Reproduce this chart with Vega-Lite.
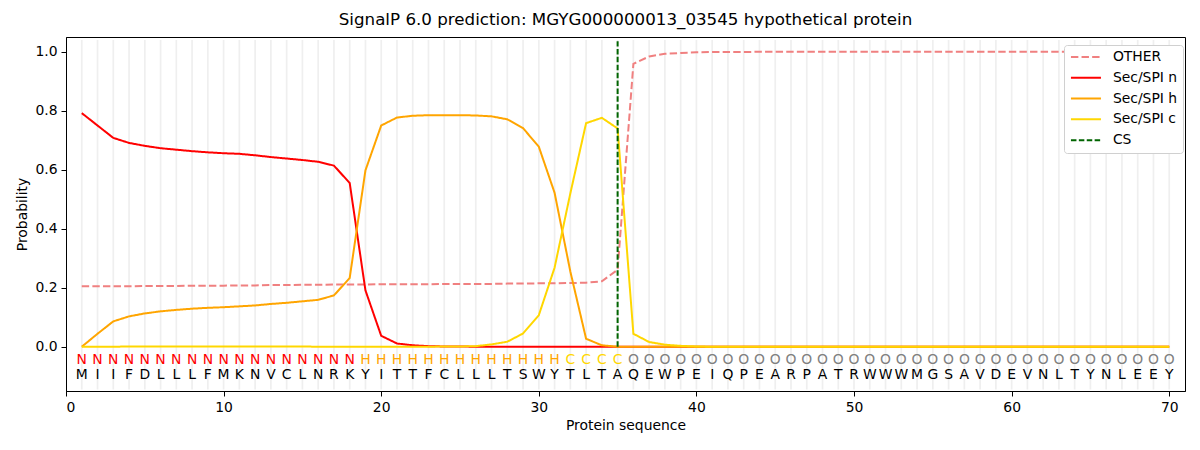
{
  "$schema": "https://vega.github.io/schema/vega-lite/v6.json",
  "description": "SignalP 6.0 per-residue probabilities",
  "width": 1119,
  "height": 354,
  "autosize": "none",
  "padding": {"left": 66, "top": 37, "right": 15, "bottom": 59},
  "title": {"text": "SignalP 6.0 prediction: MGYG000000013_03545 hypothetical protein", "fontSize": 16.7, "fontWeight": "normal", "font": "DejaVu Sans", "color": "black", "offset": 8},
  "config": {
    "view": {"stroke": "black", "strokeWidth": 1},
    "font": "DejaVu Sans",
    "axis": {"labelFont": "DejaVu Sans", "titleFont": "DejaVu Sans", "labelFontSize": 13.9, "titleFontSize": 13.9, "titleFontWeight": "normal", "labelColor": "black", "titleColor": "black", "domainColor": "black", "tickColor": "black", "tickSize": 5, "labelPadding": 4, "grid": false}
  },
  "datasets": {
    "res": [
      {"pos": 1, "aa": "M", "lab": "N", "OTHER": 0.205, "Sec/SPI n": 0.792, "Sec/SPI h": 0.000, "Sec/SPI c": 0.000},
      {"pos": 2, "aa": "I", "lab": "N", "OTHER": 0.205, "Sec/SPI n": 0.750, "Sec/SPI h": 0.044, "Sec/SPI c": 0.000},
      {"pos": 3, "aa": "I", "lab": "N", "OTHER": 0.205, "Sec/SPI n": 0.708, "Sec/SPI h": 0.086, "Sec/SPI c": 0.000},
      {"pos": 4, "aa": "F", "lab": "N", "OTHER": 0.205, "Sec/SPI n": 0.691, "Sec/SPI h": 0.103, "Sec/SPI c": 0.001},
      {"pos": 5, "aa": "D", "lab": "N", "OTHER": 0.206, "Sec/SPI n": 0.681, "Sec/SPI h": 0.113, "Sec/SPI c": 0.001},
      {"pos": 6, "aa": "L", "lab": "N", "OTHER": 0.206, "Sec/SPI n": 0.673, "Sec/SPI h": 0.120, "Sec/SPI c": 0.001},
      {"pos": 7, "aa": "L", "lab": "N", "OTHER": 0.206, "Sec/SPI n": 0.668, "Sec/SPI h": 0.125, "Sec/SPI c": 0.001},
      {"pos": 8, "aa": "L", "lab": "N", "OTHER": 0.207, "Sec/SPI n": 0.663, "Sec/SPI h": 0.129, "Sec/SPI c": 0.001},
      {"pos": 9, "aa": "F", "lab": "N", "OTHER": 0.207, "Sec/SPI n": 0.659, "Sec/SPI h": 0.132, "Sec/SPI c": 0.001},
      {"pos": 10, "aa": "M", "lab": "N", "OTHER": 0.207, "Sec/SPI n": 0.656, "Sec/SPI h": 0.134, "Sec/SPI c": 0.001},
      {"pos": 11, "aa": "K", "lab": "N", "OTHER": 0.208, "Sec/SPI n": 0.654, "Sec/SPI h": 0.137, "Sec/SPI c": 0.001},
      {"pos": 12, "aa": "N", "lab": "N", "OTHER": 0.208, "Sec/SPI n": 0.649, "Sec/SPI h": 0.140, "Sec/SPI c": 0.001},
      {"pos": 13, "aa": "V", "lab": "N", "OTHER": 0.209, "Sec/SPI n": 0.643, "Sec/SPI h": 0.145, "Sec/SPI c": 0.001},
      {"pos": 14, "aa": "C", "lab": "N", "OTHER": 0.209, "Sec/SPI n": 0.638, "Sec/SPI h": 0.149, "Sec/SPI c": 0.001},
      {"pos": 15, "aa": "L", "lab": "N", "OTHER": 0.210, "Sec/SPI n": 0.633, "Sec/SPI h": 0.154, "Sec/SPI c": 0.001},
      {"pos": 16, "aa": "N", "lab": "N", "OTHER": 0.210, "Sec/SPI n": 0.627, "Sec/SPI h": 0.159, "Sec/SPI c": 0.000},
      {"pos": 17, "aa": "R", "lab": "N", "OTHER": 0.211, "Sec/SPI n": 0.614, "Sec/SPI h": 0.174, "Sec/SPI c": 0.000},
      {"pos": 18, "aa": "K", "lab": "N", "OTHER": 0.211, "Sec/SPI n": 0.555, "Sec/SPI h": 0.233, "Sec/SPI c": 0.000},
      {"pos": 19, "aa": "Y", "lab": "H", "OTHER": 0.211, "Sec/SPI n": 0.191, "Sec/SPI h": 0.598, "Sec/SPI c": 0.000},
      {"pos": 20, "aa": "I", "lab": "H", "OTHER": 0.212, "Sec/SPI n": 0.037, "Sec/SPI h": 0.750, "Sec/SPI c": 0.000},
      {"pos": 21, "aa": "T", "lab": "H", "OTHER": 0.212, "Sec/SPI n": 0.011, "Sec/SPI h": 0.777, "Sec/SPI c": 0.000},
      {"pos": 22, "aa": "T", "lab": "H", "OTHER": 0.212, "Sec/SPI n": 0.005, "Sec/SPI h": 0.783, "Sec/SPI c": 0.000},
      {"pos": 23, "aa": "F", "lab": "H", "OTHER": 0.212, "Sec/SPI n": 0.002, "Sec/SPI h": 0.785, "Sec/SPI c": 0.000},
      {"pos": 24, "aa": "C", "lab": "H", "OTHER": 0.213, "Sec/SPI n": 0.001, "Sec/SPI h": 0.785, "Sec/SPI c": 0.001},
      {"pos": 25, "aa": "L", "lab": "H", "OTHER": 0.213, "Sec/SPI n": 0.001, "Sec/SPI h": 0.785, "Sec/SPI c": 0.001},
      {"pos": 26, "aa": "L", "lab": "H", "OTHER": 0.213, "Sec/SPI n": 0.000, "Sec/SPI h": 0.784, "Sec/SPI c": 0.002},
      {"pos": 27, "aa": "L", "lab": "H", "OTHER": 0.213, "Sec/SPI n": 0.000, "Sec/SPI h": 0.781, "Sec/SPI c": 0.008},
      {"pos": 28, "aa": "T", "lab": "H", "OTHER": 0.214, "Sec/SPI n": 0.000, "Sec/SPI h": 0.771, "Sec/SPI c": 0.017},
      {"pos": 29, "aa": "S", "lab": "H", "OTHER": 0.214, "Sec/SPI n": 0.000, "Sec/SPI h": 0.741, "Sec/SPI c": 0.045},
      {"pos": 30, "aa": "W", "lab": "H", "OTHER": 0.215, "Sec/SPI n": 0.000, "Sec/SPI h": 0.678, "Sec/SPI c": 0.107},
      {"pos": 31, "aa": "Y", "lab": "H", "OTHER": 0.215, "Sec/SPI n": 0.000, "Sec/SPI h": 0.522, "Sec/SPI c": 0.268},
      {"pos": 32, "aa": "T", "lab": "C", "OTHER": 0.216, "Sec/SPI n": 0.000, "Sec/SPI h": 0.255, "Sec/SPI c": 0.520},
      {"pos": 33, "aa": "L", "lab": "C", "OTHER": 0.217, "Sec/SPI n": 0.000, "Sec/SPI h": 0.027, "Sec/SPI c": 0.758},
      {"pos": 34, "aa": "T", "lab": "C", "OTHER": 0.222, "Sec/SPI n": 0.000, "Sec/SPI h": 0.005, "Sec/SPI c": 0.776},
      {"pos": 35, "aa": "A", "lab": "C", "OTHER": 0.261, "Sec/SPI n": 0.000, "Sec/SPI h": 0.000, "Sec/SPI c": 0.740},
      {"pos": 36, "aa": "Q", "lab": "O", "OTHER": 0.959, "Sec/SPI n": 0.000, "Sec/SPI h": 0.000, "Sec/SPI c": 0.044},
      {"pos": 37, "aa": "E", "lab": "O", "OTHER": 0.984, "Sec/SPI n": 0.000, "Sec/SPI h": 0.000, "Sec/SPI c": 0.016},
      {"pos": 38, "aa": "W", "lab": "O", "OTHER": 0.993, "Sec/SPI n": 0.000, "Sec/SPI h": 0.000, "Sec/SPI c": 0.007},
      {"pos": 39, "aa": "P", "lab": "O", "OTHER": 0.996, "Sec/SPI n": 0.000, "Sec/SPI h": 0.000, "Sec/SPI c": 0.003},
      {"pos": 40, "aa": "E", "lab": "O", "OTHER": 0.998, "Sec/SPI n": 0.000, "Sec/SPI h": 0.000, "Sec/SPI c": 0.001},
      {"pos": 41, "aa": "I", "lab": "O", "OTHER": 0.999, "Sec/SPI n": 0.000, "Sec/SPI h": 0.000, "Sec/SPI c": 0.000},
      {"pos": 42, "aa": "Q", "lab": "O", "OTHER": 0.999, "Sec/SPI n": 0.000, "Sec/SPI h": 0.000, "Sec/SPI c": 0.000},
      {"pos": 43, "aa": "P", "lab": "O", "OTHER": 0.999, "Sec/SPI n": 0.000, "Sec/SPI h": 0.000, "Sec/SPI c": 0.000},
      {"pos": 44, "aa": "E", "lab": "O", "OTHER": 1.000, "Sec/SPI n": 0.000, "Sec/SPI h": 0.000, "Sec/SPI c": 0.000},
      {"pos": 45, "aa": "A", "lab": "O", "OTHER": 1.000, "Sec/SPI n": 0.000, "Sec/SPI h": 0.000, "Sec/SPI c": 0.000},
      {"pos": 46, "aa": "R", "lab": "O", "OTHER": 1.000, "Sec/SPI n": 0.000, "Sec/SPI h": 0.000, "Sec/SPI c": 0.000},
      {"pos": 47, "aa": "P", "lab": "O", "OTHER": 1.000, "Sec/SPI n": 0.000, "Sec/SPI h": 0.000, "Sec/SPI c": 0.000},
      {"pos": 48, "aa": "A", "lab": "O", "OTHER": 1.000, "Sec/SPI n": 0.000, "Sec/SPI h": 0.000, "Sec/SPI c": 0.000},
      {"pos": 49, "aa": "T", "lab": "O", "OTHER": 1.000, "Sec/SPI n": 0.000, "Sec/SPI h": 0.000, "Sec/SPI c": 0.000},
      {"pos": 50, "aa": "R", "lab": "O", "OTHER": 1.000, "Sec/SPI n": 0.000, "Sec/SPI h": 0.000, "Sec/SPI c": 0.000},
      {"pos": 51, "aa": "W", "lab": "O", "OTHER": 1.000, "Sec/SPI n": 0.000, "Sec/SPI h": 0.000, "Sec/SPI c": 0.000},
      {"pos": 52, "aa": "W", "lab": "O", "OTHER": 1.000, "Sec/SPI n": 0.000, "Sec/SPI h": 0.000, "Sec/SPI c": 0.000},
      {"pos": 53, "aa": "W", "lab": "O", "OTHER": 1.000, "Sec/SPI n": 0.000, "Sec/SPI h": 0.000, "Sec/SPI c": 0.000},
      {"pos": 54, "aa": "M", "lab": "O", "OTHER": 1.000, "Sec/SPI n": 0.000, "Sec/SPI h": 0.000, "Sec/SPI c": 0.000},
      {"pos": 55, "aa": "G", "lab": "O", "OTHER": 1.000, "Sec/SPI n": 0.000, "Sec/SPI h": 0.000, "Sec/SPI c": 0.000},
      {"pos": 56, "aa": "S", "lab": "O", "OTHER": 1.000, "Sec/SPI n": 0.000, "Sec/SPI h": 0.000, "Sec/SPI c": 0.000},
      {"pos": 57, "aa": "A", "lab": "O", "OTHER": 1.000, "Sec/SPI n": 0.000, "Sec/SPI h": 0.000, "Sec/SPI c": 0.000},
      {"pos": 58, "aa": "V", "lab": "O", "OTHER": 1.000, "Sec/SPI n": 0.000, "Sec/SPI h": 0.000, "Sec/SPI c": 0.000},
      {"pos": 59, "aa": "D", "lab": "O", "OTHER": 1.000, "Sec/SPI n": 0.000, "Sec/SPI h": 0.000, "Sec/SPI c": 0.000},
      {"pos": 60, "aa": "E", "lab": "O", "OTHER": 1.000, "Sec/SPI n": 0.000, "Sec/SPI h": 0.000, "Sec/SPI c": 0.000},
      {"pos": 61, "aa": "V", "lab": "O", "OTHER": 1.000, "Sec/SPI n": 0.000, "Sec/SPI h": 0.000, "Sec/SPI c": 0.000},
      {"pos": 62, "aa": "N", "lab": "O", "OTHER": 1.000, "Sec/SPI n": 0.000, "Sec/SPI h": 0.000, "Sec/SPI c": 0.000},
      {"pos": 63, "aa": "L", "lab": "O", "OTHER": 1.000, "Sec/SPI n": 0.000, "Sec/SPI h": 0.000, "Sec/SPI c": 0.000},
      {"pos": 64, "aa": "T", "lab": "O", "OTHER": 1.000, "Sec/SPI n": 0.000, "Sec/SPI h": 0.000, "Sec/SPI c": 0.000},
      {"pos": 65, "aa": "Y", "lab": "O", "OTHER": 1.000, "Sec/SPI n": 0.000, "Sec/SPI h": 0.000, "Sec/SPI c": 0.000},
      {"pos": 66, "aa": "N", "lab": "O", "OTHER": 1.000, "Sec/SPI n": 0.000, "Sec/SPI h": 0.000, "Sec/SPI c": 0.000},
      {"pos": 67, "aa": "L", "lab": "O", "OTHER": 1.000, "Sec/SPI n": 0.000, "Sec/SPI h": 0.000, "Sec/SPI c": 0.000},
      {"pos": 68, "aa": "E", "lab": "O", "OTHER": 1.000, "Sec/SPI n": 0.000, "Sec/SPI h": 0.000, "Sec/SPI c": 0.000},
      {"pos": 69, "aa": "E", "lab": "O", "OTHER": 1.000, "Sec/SPI n": 0.000, "Sec/SPI h": 0.000, "Sec/SPI c": 0.000},
      {"pos": 70, "aa": "Y", "lab": "O", "OTHER": 1.000, "Sec/SPI n": 0.000, "Sec/SPI h": 0.000, "Sec/SPI c": 0.000}
    ],
    "cs": [
      {"pos": 35, "p": 0.0, "series": "CS"},
      {"pos": 35, "p": 1.036, "series": "CS"}
    ]
  },
  "layer": [
    {
      "data": {"name": "res"},
      "mark": {"type": "rule", "color": "#efefef", "strokeWidth": 1.7},
      "encoding": {
        "x": {"field": "pos", "type": "quantitative", "scale": {"domain": [0, 71], "nice": false, "zero": false}},
        "y": {"datum": -0.145},
        "y2": {"datum": 1.04}
      }
    },
    {
      "data": {"name": "res"},
      "transform": [{"fold": ["OTHER", "Sec/SPI n", "Sec/SPI h", "Sec/SPI c"], "as": ["series", "p"]}],
      "mark": {"type": "line", "strokeWidth": 2},
      "encoding": {
        "x": {"field": "pos", "type": "quantitative", "scale": {"domain": [0, 71], "nice": false, "zero": false},
          "axis": {"values": [0, 10, 20, 30, 40, 50, 60, 70], "title": "Protein sequence", "titlePadding": 5, "format": "d"}},
        "y": {"field": "p", "type": "quantitative", "scale": {"domain": [-0.15, 1.05], "nice": false, "zero": false},
          "axis": {"values": [0, 0.2, 0.4, 0.6, 0.8, 1.0], "format": ".1f", "title": "Probability", "titlePadding": 5}},
        "color": {"field": "series", "type": "nominal",
          "scale": {"domain": ["OTHER", "Sec/SPI n", "Sec/SPI h", "Sec/SPI c", "CS"], "range": ["#f08080", "#ff0000", "#ffa500", "#ffd700", "#006400"]},
          "legend": {"title": null, "orient": "none", "legendX": 998, "legendY": 8, "symbolType": "M-1,0H5", "symbolSize": 100, "symbolStrokeWidth": 2, "symbolFillColor": "transparent", "labelFontSize": 13.9, "labelFont": "DejaVu Sans", "labelColor": "black", "rowPadding": 5.8, "padding": 5, "fillColor": "white", "strokeColor": "#d0d0d0", "cornerRadius": 3, "labelOffset": 30}},
        "strokeDash": {"field": "series", "type": "nominal",
          "scale": {"domain": ["OTHER", "Sec/SPI n", "Sec/SPI h", "Sec/SPI c", "CS"], "range": [[7.4, 3.2], [1, 0], [1, 0], [1, 0], [5.5, 2.4]]},
          "legend": null}
      }
    },
    {
      "data": {"name": "cs"},
      "mark": {"type": "line", "strokeWidth": 2},
      "encoding": {
        "x": {"field": "pos", "type": "quantitative"},
        "y": {"field": "p", "type": "quantitative"},
        "color": {"field": "series", "type": "nominal"},
        "strokeDash": {"field": "series", "type": "nominal"}
      }
    },
    {
      "data": {"name": "res"},
      "mark": {"type": "text", "fontSize": 13.9, "font": "DejaVu Sans", "baseline": "middle", "align": "center"},
      "encoding": {
        "x": {"field": "pos", "type": "quantitative"},
        "y": {"datum": -0.046},
        "text": {"field": "lab"},
        "color": {"condition": [
          {"test": "datum.lab === 'N'", "value": "#ff0000"},
          {"test": "datum.lab === 'H'", "value": "#ffa500"},
          {"test": "datum.lab === 'C'", "value": "#ffd700"}
        ], "value": "#808080"}
      }
    },
    {
      "data": {"name": "res"},
      "mark": {"type": "text", "fontSize": 13.9, "font": "DejaVu Sans", "baseline": "middle", "align": "center", "color": "black"},
      "encoding": {
        "x": {"field": "pos", "type": "quantitative"},
        "y": {"datum": -0.097},
        "text": {"field": "aa"}
      }
    }
  ]
}
